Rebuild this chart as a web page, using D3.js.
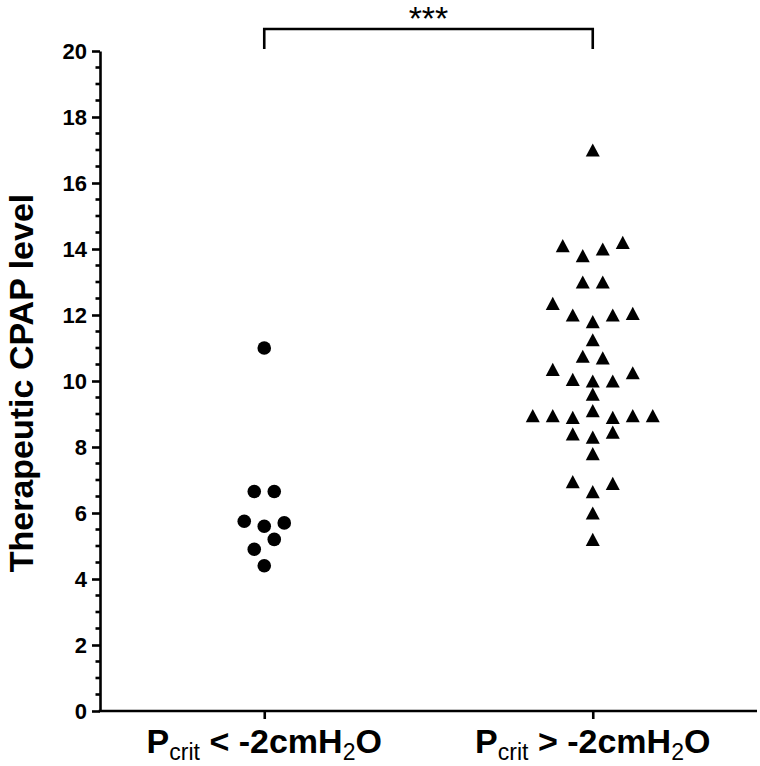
<!DOCTYPE html>
<html>
<head>
<meta charset="utf-8">
<script src="https://cdn.jsdelivr.net/npm/d3@7"></script>
<style>
  html, body { margin: 0; padding: 0; background: #fff; }
  svg { display: block; font-family: "Liberation Sans", Arial, sans-serif; }
</style>
</head>
<body>
<svg id="chart" width="760" height="766"></svg>
<script>
// ---- data ----
const categories = ["low", "high"];
const lowValues  = [11, 6.65, 6.65, 5.75, 5.6, 5.7, 4.9, 5.2, 4.4];
const highValues = [17,
  14.1, 13.8, 14.0, 14.2,
  13.0, 13.0,
  12.35, 12.0, 11.8, 12.0, 12.05,
  11.25,
  10.75, 10.7,
  10.35, 10.05, 10.0, 10.0, 10.25,
  9.6,
  8.95, 8.95, 8.9, 9.1, 8.9, 8.95, 8.95,
  8.4, 8.3, 8.45,
  7.8,
  6.95, 6.65, 6.9,
  6.0,
  5.2];
const yTicks = [0, 2, 4, 6, 8, 10, 12, 14, 16, 18, 20];
const yTitle = "Therapeutic CPAP level";
const significance = "***";

// ---- layout ----
const svg = d3.select("#chart");
const x0 = 100, x1 = 757, yTop = 51, yBot = 711;
const y = d3.scaleLinear().domain([0, 20]).range([yBot, yTop]);
const x = d3.scalePoint().domain(categories).range([x0, x1]).padding(0.5);
const spacing = 20;   // horizontal spacing of points in a row (px)
const rowGap = 0.315; // values closer than this stack into one row

function swarm(values) {
  const idx = values.map((v, i) => i).sort((a, b) => values[b] - values[a] || a - b);
  const rows = [];
  let cur = null, prev = null;
  idx.forEach(i => {
    if (cur && prev - values[i] < rowGap) cur.push(i);
    else { cur = [i]; rows.push(cur); }
    prev = values[i];
  });
  const off = new Array(values.length).fill(0);
  rows.forEach(r => {
    r.sort((a, b) => a - b);
    r.forEach((i, k) => { off[i] = (k - (r.length - 1) / 2) * spacing; });
  });
  return values.map((v, i) => ({ v, dx: off[i] }));
}

const axisColor = "#000";
const sw = 2.6;

// y axis
const yAxis = d3.axisLeft(y).tickValues(yTicks).tickSize(8).tickSizeOuter(0).tickPadding(5);
const gy = svg.append("g").attr("transform", `translate(${x0},0)`).call(yAxis);
gy.select(".domain").attr("stroke", axisColor).attr("stroke-width", sw);
gy.selectAll(".tick line").attr("stroke", axisColor).attr("stroke-width", sw);
gy.selectAll(".tick text").attr("font-size", 22).attr("font-weight", "bold")
  .attr("font-family", "Liberation Sans, Arial, sans-serif").attr("fill", "#000");
// minor ticks
const minor = d3.range(0, 20.01, 0.5).filter(v => !yTicks.includes(v));
svg.append("g").selectAll("line").data(minor).join("line")
  .attr("x1", x0 - 4.5).attr("x2", x0).attr("y1", d => y(d)).attr("y2", d => y(d))
  .attr("stroke", axisColor).attr("stroke-width", sw);

// x axis
const xAxis = d3.axisBottom(x).tickSize(8).tickSizeOuter(0).tickFormat("");
const gx = svg.append("g").attr("transform", `translate(0,${yBot})`).call(xAxis);
gx.select(".domain").attr("stroke", axisColor).attr("stroke-width", sw)
  .attr("d", `M${x0 - sw/2},0H${x1}`);
gx.selectAll(".tick line").attr("stroke", axisColor).attr("stroke-width", sw);

// x labels with subscripts
const labelSigns = { low: "<", high: ">" };
categories.forEach(c => {
  const t = svg.append("text").attr("x", x(c)).attr("y", 753)
    .attr("text-anchor", "middle").attr("font-size", 34).attr("font-weight", "bold").attr("fill", "#000");
  t.append("tspan").text("P");
  t.append("tspan").attr("font-size", 23).attr("font-weight", "normal").attr("dy", 7).text("crit");
  t.append("tspan").attr("dy", -7).text(` ${labelSigns[c]} -2cmH`);
  t.append("tspan").attr("font-size", 23).attr("font-weight", "normal").attr("dy", 7).text("2");
  t.append("tspan").attr("dy", -7).text("O");
});

// y title
svg.append("text")
  .attr("transform", `translate(33,${(yTop + yBot) / 2 + 2}) rotate(-90)`)
  .attr("text-anchor", "middle").attr("font-size", 34).attr("font-weight", "bold").attr("fill", "#000")
  .text(yTitle);

// points
const lowPts = swarm(lowValues);
svg.append("g").selectAll("circle").data(lowPts).join("circle")
  .attr("cx", d => x("low") + d.dx).attr("cy", d => y(d.v)).attr("r", 6.8).attr("fill", "#000");

const highPts = swarm(highValues);
const tw = 7, th = 6.6;
svg.append("g").selectAll("path").data(highPts).join("path")
  .attr("d", `M0,${-th}L${tw},${th}L${-tw},${th}Z`)
  .attr("transform", d => `translate(${x("high") + d.dx},${y(d.v)})`)
  .attr("fill", "#000");

// significance bracket
const bx1 = x("low"), bx2 = x("high"), by = 29, byLeg = 49;
svg.append("path")
  .attr("d", `M${bx1},${byLeg}V${by}H${bx2}V${byLeg}`)
  .attr("fill", "none").attr("stroke", "#000").attr("stroke-width", sw);
svg.append("text").attr("x", (bx1 + bx2) / 2).attr("y", 30)
  .attr("text-anchor", "middle").attr("font-size", 34).attr("fill", "#000")
  .text(significance);
</script>
</body>
</html>
